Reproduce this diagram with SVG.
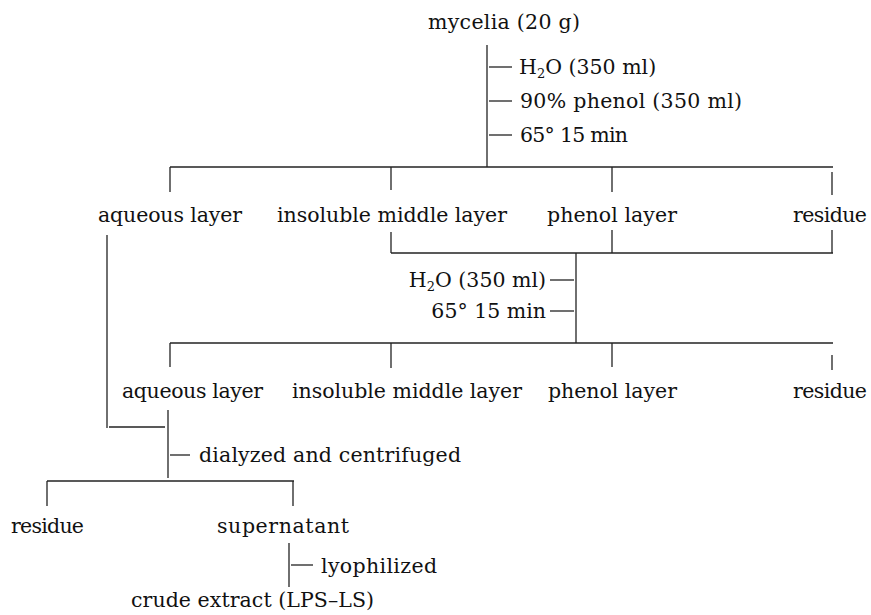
<svg xmlns="http://www.w3.org/2000/svg" width="871" height="615" viewBox="0 0 871 615">
<style>
  text { font-family: "DejaVu Serif", "Liberation Serif", serif; font-size: 20.5px; fill: #111; }
  .sub { font-size: 13px; }
  line { stroke: #222; stroke-width: 1.3; fill: none; }
</style>
<rect width="871" height="615" fill="#ffffff"/>
<g id="connectors">
  <line x1="487" y1="45" x2="487" y2="167"/>
  <line x1="489" y1="67" x2="512" y2="67"/>
  <line x1="489" y1="101" x2="512" y2="101"/>
  <line x1="489" y1="135" x2="512" y2="135"/>
  <line x1="170" y1="167" x2="833" y2="167"/>
  <line x1="170" y1="167" x2="170" y2="192"/>
  <line x1="391" y1="167" x2="391" y2="190"/>
  <line x1="612" y1="167" x2="612" y2="192"/>
  <line x1="832" y1="172" x2="832" y2="195"/>
  <line x1="391" y1="232" x2="391" y2="253"/>
  <line x1="612" y1="230" x2="612" y2="253"/>
  <line x1="832" y1="230" x2="832" y2="253"/>
  <line x1="391" y1="253" x2="833" y2="253"/>
  <line x1="576" y1="253" x2="576" y2="343"/>
  <line x1="550" y1="280" x2="574" y2="280"/>
  <line x1="550" y1="311" x2="574" y2="311"/>
  <line x1="170" y1="343" x2="833" y2="343"/>
  <line x1="170" y1="343" x2="170" y2="367"/>
  <line x1="391" y1="343" x2="391" y2="368"/>
  <line x1="612" y1="343" x2="612" y2="367"/>
  <line x1="832" y1="355" x2="832" y2="370"/>
  <line x1="107" y1="235" x2="107" y2="428"/>
  <line x1="109" y1="427" x2="165" y2="427"/>
  <line x1="168" y1="410" x2="168" y2="478"/>
  <line x1="170" y1="455" x2="190" y2="455"/>
  <line x1="47" y1="481" x2="294" y2="481"/>
  <line x1="47" y1="481" x2="47" y2="506"/>
  <line x1="293" y1="481" x2="293" y2="506"/>
  <line x1="289" y1="543" x2="289" y2="587"/>
  <line x1="291" y1="565" x2="313" y2="565"/>
</g>
<g id="mycelia"><text x="428" y="29" textLength="152">mycelia (20 g)</text></g>
<g id="cond1">
  <text x="519" y="74">H<tspan class="sub" dy="4">2</tspan><tspan dy="-4">O (350 ml)</tspan></text>
  <text x="520" y="108" textLength="222">90% phenol (350 ml)</text>
  <text x="520" y="142" textLength="108">65° 15 min</text>
</g>
<g id="aqueous1"><text x="98" y="222" textLength="144">aqueous layer</text></g>
<g id="middle1"><text x="277" y="222" textLength="230">insoluble middle layer</text></g>
<g id="phenol1"><text x="547" y="222" textLength="130">phenol layer</text></g>
<g id="residue1"><text x="793" y="222" textLength="74">residue</text></g>
<g id="cond2">
  <text x="546" y="287" text-anchor="end">H<tspan class="sub" dy="4">2</tspan><tspan dy="-4">O (350 ml)</tspan></text>
  <text x="546" y="318" text-anchor="end">65° 15 min</text>
</g>
<g id="aqueous2"><text x="122" y="398" textLength="141">aqueous layer</text></g>
<g id="middle2"><text x="292" y="398" textLength="230">insoluble middle layer</text></g>
<g id="phenol2"><text x="548" y="398" textLength="129">phenol layer</text></g>
<g id="residue2"><text x="793" y="398" textLength="74">residue</text></g>
<g id="dialysis"><text x="199" y="462" textLength="262">dialyzed and centrifuged</text></g>
<g id="residue3"><text x="11" y="533" textLength="73">residue</text></g>
<g id="supernatant"><text x="217" y="533" textLength="132">supernatant</text></g>
<g id="lyo"><text x="321" y="573" textLength="116">lyophilized</text></g>
<g id="crude"><text x="131" y="607" textLength="243">crude extract (LPS–LS)</text></g>
</svg>
